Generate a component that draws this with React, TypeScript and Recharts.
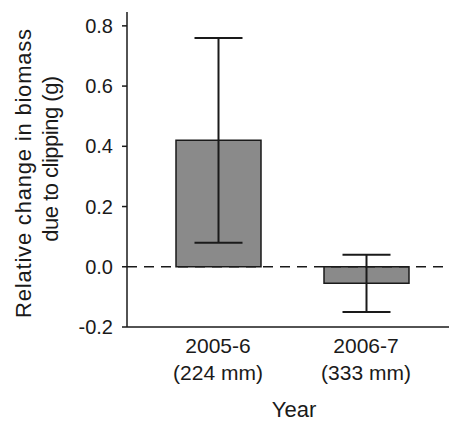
import { BarChart, Bar, XAxis, YAxis, ErrorBar, ReferenceLine, Label } from "recharts";

const categories = ["2005-6", "2006-7"];
const rainfall = ["(224 mm)", "(333 mm)"];
const meanChange = [0.42, -0.055];
const errorHalf = [0.34, 0.095];
const yTicks = [-0.2, 0, 0.2, 0.4, 0.6, 0.8];

const data = categories.map((year, i) => ({
  year,
  rain: rainfall[i],
  value: meanChange[i],
  err: errorHalf[i],
}));

const FONT = "'Liberation Sans', Arial, sans-serif";
const INK = "#1a1a1a";

function YearTick(props: any) {
  const { x, y, payload, index } = props;
  return (
    <g transform={`translate(${x},${y})`}>
      <text textAnchor="middle" fontFamily={FONT} fontSize={21} fill={INK}>
        <tspan x={0} y={18}>{payload.value}</tspan>
        <tspan x={0} y={45}>{rainfall[index]}</tspan>
      </text>
    </g>
  );
}

function ValueTick(props: any) {
  const { x, y, payload } = props;
  return (
    <text
      x={x}
      y={y}
      dy={7}
      textAnchor="end"
      fontFamily={FONT}
      fontSize={20}
      fill={INK}
    >
      {payload.value.toFixed(1)}
    </text>
  );
}

function YTitle() {
  return (
    <g fontFamily={FONT} fill={INK} textAnchor="middle" fontSize={22}>
      <text letterSpacing={0.8} transform="translate(31,173) rotate(-90)">
        Relative change in biomass
      </text>
      <text letterSpacing={-0.5} transform="translate(58,159) rotate(-90)">
        due to clipping (g)
      </text>
    </g>
  );
}

function XTitle() {
  return (
    <text x={294} y={417} textAnchor="middle" fontFamily={FONT} fontSize={22} fill={INK}>
      Year
    </text>
  );
}

export default function App() {
  return (
    <div style={{ position: "absolute", left: 0, top: 0, background: "white" }}>
      <BarChart
        width={449}
        height={423}
        data={data}
        margin={{ top: 12, right: 0, left: 0, bottom: 0 }}
      >
        <XAxis
          dataKey="year"
          height={96}
          padding={{ left: 17, right: 9 }}
          tickLine={false}
          axisLine={{ stroke: INK, strokeWidth: 1.5 }}
          tick={<YearTick />}
          interval={0}
        >
          <Label content={<XTitle />} />
        </XAxis>
        <YAxis
          width={127}
          domain={[-0.2, 0.846]}
          ticks={yTicks}
          allowDataOverflow
          tickSize={5}
          tickMargin={9}
          tick={<ValueTick />}
          tickLine={{ stroke: INK, strokeWidth: 1.5 }}
          axisLine={{ stroke: INK, strokeWidth: 1.5 }}
        >
          <Label content={<YTitle />} />
        </YAxis>
        <Bar
          dataKey="value"
          barSize={85}
          fill="#8a8a8a"
          stroke={INK}
          strokeWidth={1.5}
          isAnimationActive={false}
        >
          <ErrorBar dataKey="err" width={24} stroke={INK} strokeWidth={2} direction="y" />
        </Bar>
        <ReferenceLine y={0} stroke={INK} strokeWidth={1.5} strokeDasharray="10 7" />
      </BarChart>
    </div>
  );
}
